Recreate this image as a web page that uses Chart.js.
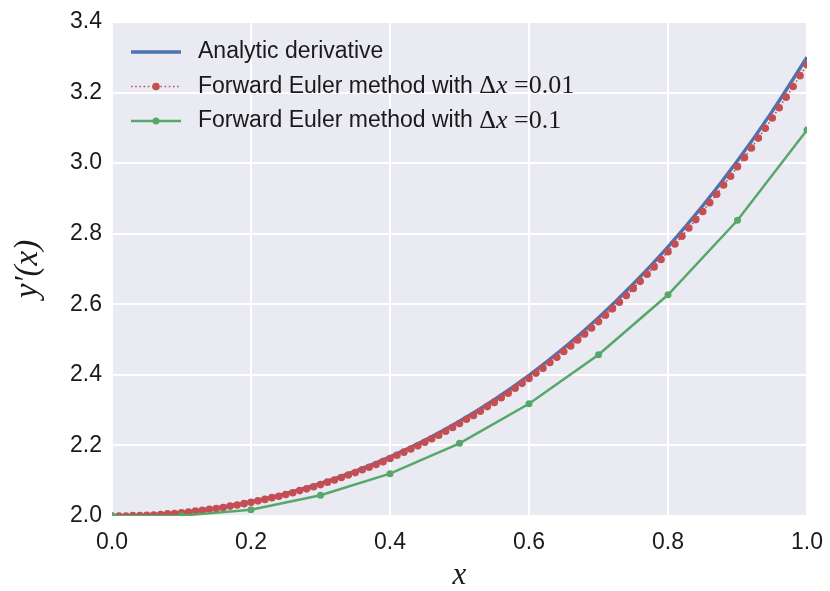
<!DOCTYPE html>
<html>
<head>
<meta charset="utf-8">
<script src="https://cdn.jsdelivr.net/npm/chart.js@4"></script>
<style>
  html, body { margin: 0; padding: 0; background: #fff; }
</style>
</head>
<body>
<canvas id="chart" width="830" height="591"></canvas>
<script>
// values
const X_ANALYTIC = [0, 0.05, 0.1, 0.15, 0.2, 0.25, 0.3, 0.35, 0.4, 0.45, 0.5,
  0.55, 0.6, 0.65, 0.7, 0.75, 0.8, 0.85, 0.9, 0.95, 1.0];
const Y_ANALYTIC = [2.000, 2.0025, 2.010, 2.0227, 2.0405, 2.0637, 2.0924, 2.1270, 2.1677, 2.2148, 2.2688,
  2.3300, 2.3989, 2.4761, 2.5620, 2.6574, 2.7629, 2.8791, 3.0068, 3.1468, 3.300];

const X_FINE = [0.00, 0.01, 0.02, 0.03, 0.04, 0.05, 0.06, 0.07, 0.08, 0.09,
  0.10, 0.11, 0.12, 0.13, 0.14, 0.15, 0.16, 0.17, 0.18, 0.19,
  0.20, 0.21, 0.22, 0.23, 0.24, 0.25, 0.26, 0.27, 0.28, 0.29,
  0.30, 0.31, 0.32, 0.33, 0.34, 0.35, 0.36, 0.37, 0.38, 0.39,
  0.40, 0.41, 0.42, 0.43, 0.44, 0.45, 0.46, 0.47, 0.48, 0.49,
  0.50, 0.51, 0.52, 0.53, 0.54, 0.55, 0.56, 0.57, 0.58, 0.59,
  0.60, 0.61, 0.62, 0.63, 0.64, 0.65, 0.66, 0.67, 0.68, 0.69,
  0.70, 0.71, 0.72, 0.73, 0.74, 0.75, 0.76, 0.77, 0.78, 0.79,
  0.80, 0.81, 0.82, 0.83, 0.84, 0.85, 0.86, 0.87, 0.88, 0.89,
  0.90, 0.91, 0.92, 0.93, 0.94, 0.95, 0.96, 0.97, 0.98, 0.99, 1.00];
const Y_EULER_FINE = [2.000, 2.000, 2.000, 2.001, 2.001, 2.002, 2.003, 2.004, 2.006, 2.007,
  2.009, 2.011, 2.014, 2.016, 2.019, 2.021, 2.024, 2.028, 2.031, 2.035,
  2.039, 2.043, 2.047, 2.052, 2.056, 2.061, 2.066, 2.072, 2.077, 2.083,
  2.089, 2.096, 2.102, 2.109, 2.116, 2.123, 2.131, 2.138, 2.146, 2.154,
  2.163, 2.172, 2.181, 2.190, 2.199, 2.209, 2.219, 2.229, 2.240, 2.251,
  2.262, 2.274, 2.285, 2.297, 2.310, 2.322, 2.335, 2.348, 2.362, 2.376,
  2.390, 2.405, 2.419, 2.435, 2.450, 2.466, 2.482, 2.499, 2.516, 2.533,
  2.551, 2.569, 2.587, 2.606, 2.625, 2.645, 2.665, 2.685, 2.706, 2.727,
  2.749, 2.771, 2.793, 2.816, 2.840, 2.863, 2.888, 2.912, 2.938, 2.963,
  2.990, 3.016, 3.043, 3.071, 3.099, 3.128, 3.157, 3.187, 3.217, 3.248, 3.279];

const X_COARSE = [0.0, 0.1, 0.2, 0.3, 0.4, 0.5, 0.6, 0.7, 0.8, 0.9, 1.0];
const Y_EULER_COARSE = [2.000, 2.001, 2.018, 2.059, 2.120, 2.206, 2.318, 2.457, 2.627, 2.838, 3.094];

const X_TICKS = [0.0, 0.2, 0.4, 0.6, 0.8, 1.0];
const Y_TICKS = [2.0, 2.2, 2.4, 2.6, 2.8, 3.0, 3.2, 3.4];

const SANS = "'Liberation Sans', Arial, sans-serif";
const SERIF = "'Liberation Serif', 'DejaVu Serif', serif";
const TEXT = "#1a1a1a";

// legend text split into plain and math runs so the math part can be serif
const LEGEND_PARTS = [
  [{ text: "Analytic derivative", font: `23px ${SANS}` }],
  [
    { text: "Forward Euler method with ", font: `23px ${SANS}` },
    { text: "Δ", font: `26px ${SERIF}` },
    { text: "x", font: `italic 26px ${SERIF}` },
    { text: " =", font: `26px ${SERIF}` },
    { text: "0.01", font: `26px ${SERIF}` },
  ],
  [
    { text: "Forward Euler method with ", font: `23px ${SANS}` },
    { text: "Δ", font: `26px ${SERIF}` },
    { text: "x", font: `italic 26px ${SERIF}` },
    { text: " =", font: `26px ${SERIF}` },
    { text: "0.1", font: `26px ${SERIF}` },
  ],
];

function pairs(xs, ys) {
  return xs.map((x, i) => ({ x, y: ys[i] }));
}

const plotBackground = {
  id: "plotBackground",
  beforeDraw(chart) {
    const { ctx, chartArea: a } = chart;
    ctx.save();
    ctx.fillStyle = "#EAEAF2";
    ctx.fillRect(a.left, a.top, a.right - a.left, a.bottom - a.top);
    ctx.restore();
  },
};

// legend sits inside the plot, top-left, like matplotlib's loc="upper left"
const insideLegend = {
  id: "insideLegend",
  afterDraw(chart) {
    const { ctx, chartArea: a } = chart;
    const x0 = a.left + 19;
    const len = 50;
    chart.data.datasets.forEach((ds, i) => {
      const y = a.top + 30 + i * 34.5;
      ctx.save();
      ctx.strokeStyle = ds.borderColor;
      ctx.lineWidth = ds.borderWidth;
      ctx.setLineDash(ds.borderDash || []);
      ctx.beginPath();
      ctx.moveTo(x0, y);
      ctx.lineTo(x0 + len, y);
      ctx.stroke();
      if (ds.pointRadius > 0) {
        ctx.fillStyle = ds.pointBackgroundColor;
        ctx.beginPath();
        ctx.arc(x0 + len / 2, y, ds.pointRadius, 0, Math.PI * 2);
        ctx.fill();
      }
      let tx = x0 + len + 17;
      ctx.fillStyle = TEXT;
      ctx.textBaseline = "middle";
      for (const part of LEGEND_PARTS[i]) {
        ctx.font = part.font;
        ctx.fillText(part.text, tx, y);
        tx += ctx.measureText(part.text).width;
      }
      ctx.restore();
    });
  },
};

new Chart(document.getElementById("chart"), {
  type: "line",
  data: {
    datasets: [
      {
        label: "Analytic derivative",
        data: pairs(X_ANALYTIC, Y_ANALYTIC),
        borderColor: "#4C72B0",
        borderWidth: 3.4,
        pointRadius: 0,
        cubicInterpolationMode: "monotone",
        clip: 0,
        order: 2,
      },
      {
        label: "Forward Euler method with Δx = 0.01",
        data: pairs(X_FINE, Y_EULER_FINE),
        borderColor: "#C44E52",
        borderWidth: 1.6,
        borderDash: [1.6, 2.6],
        pointRadius: 3.8,
        pointBorderWidth: 0,
        pointBackgroundColor: "#C44E52",
        clip: 0,
        order: 1,
      },
      {
        label: "Forward Euler method with Δx = 0.1",
        data: pairs(X_COARSE, Y_EULER_COARSE),
        borderColor: "#55A868",
        borderWidth: 2.5,
        pointRadius: 3.5,
        pointBorderWidth: 0,
        pointBackgroundColor: "#55A868",
        clip: 0,
        order: 0,
      },
    ],
  },
  options: {
    responsive: false,
    devicePixelRatio: 1,
    animation: false,
    layout: { padding: { top: 22, right: 23, left: 0, bottom: 0 } },
    plugins: {
      legend: { display: false },
      tooltip: { enabled: false },
    },
    scales: {
      x: {
        type: "linear",
        min: 0,
        max: 1,
        afterBuildTicks: (s) => { s.ticks = X_TICKS.map((v) => ({ value: v })); },
        afterFit: (s) => {
          s.height = 75;
          s.paddingLeft = 0;
          s.paddingRight = 0;
        },
        ticks: {
          callback: (v) => v.toFixed(1),
          color: TEXT,
          padding: 13,
          font: { family: SANS, size: 23 },
          maxRotation: 0,
        },
        grid: { color: "#ffffff", lineWidth: 2, drawTicks: false },
        border: { display: false },
        title: {
          display: true,
          text: "x",
          color: TEXT,
          font: { family: SERIF, size: 31, style: "italic", lineHeight: 1 },
          padding: { top: 0, bottom: 0 },
        },
      },
      y: {
        min: 2.0,
        max: 3.4,
        afterBuildTicks: (s) => { s.ticks = Y_TICKS.map((v) => ({ value: v })); },
        afterFit: (s) => {
          s.width = 112;
          s.paddingTop = 0;
          s.paddingBottom = 0;
        },
        ticks: {
          callback: (v) => v.toFixed(1),
          color: TEXT,
          padding: 10,
          font: { family: SANS, size: 23 },
        },
        grid: { color: "#ffffff", lineWidth: 2, drawTicks: false },
        border: { display: false },
        title: {
          display: true,
          text: "y′(x)",
          color: TEXT,
          font: { family: SERIF, size: 33, style: "italic", lineHeight: 1 },
          padding: { top: 12, bottom: 0 },
        },
      },
    },
  },
  plugins: [plotBackground, insideLegend],
});
</script>
</body>
</html>
